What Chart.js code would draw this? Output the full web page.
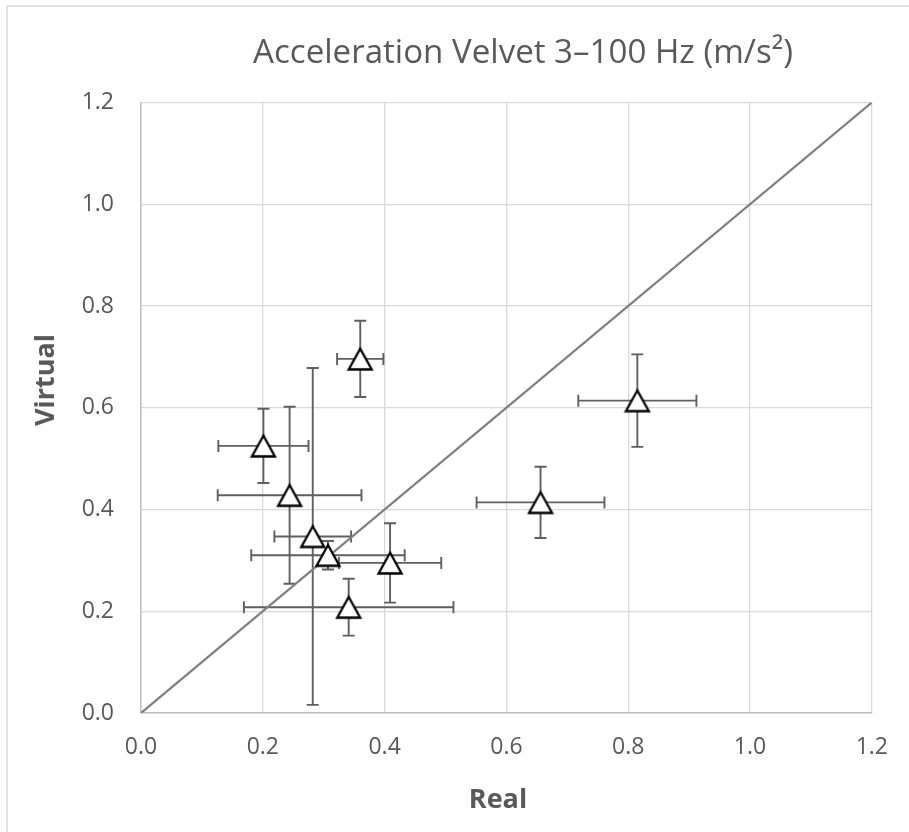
<!DOCTYPE html>
<html>
<head>
<meta charset="utf-8">
<script src="https://cdn.jsdelivr.net/npm/chart.js@4.4.1/dist/chart.umd.min.js"></script>
<style>
  html, body { margin: 0; padding: 0; background: #fff; }
  #wrap { position: relative; width: 909px; height: 832px; }
</style>
</head>
<body>
<div id="wrap"><canvas id="accChart" width="909" height="832"></canvas></div>
<script>
// Data
const realVals    = [0.360, 0.201, 0.244, 0.282, 0.307, 0.409, 0.341, 0.656, 0.815];
const virtualVals = [0.696, 0.525, 0.428, 0.347, 0.310, 0.295, 0.208, 0.414, 0.614];
const realErr     = [0.038, 0.074, 0.118, 0.063, 0.126, 0.084, 0.172, 0.105, 0.097];
const virtualErr  = [0.075, 0.073, 0.174, 0.331, 0.028, 0.078, 0.056, 0.070, 0.091];
// 1:1 reference line
const lineX = [0, 1.2];
const lineY = [0, 1.2];

const chartTitle = 'Acceleration Velvet 3–100 Hz (m/s²)';
const xTitle = 'Real';
const yTitle = 'Virtual';

const textGrey = '#595959';
const fontFam = '"Open Sans", "Noto Sans", sans-serif';

// Hollow triangle marker
const tri = document.createElement('canvas');
tri.width = 28;
tri.height = 26;
const tctx = tri.getContext('2d');
tctx.beginPath();
tctx.moveTo(14, 2.8);
tctx.lineTo(25.5, 23.5);
tctx.lineTo(2.5, 23.5);
tctx.closePath();
tctx.fillStyle = '#ffffff';
tctx.fill();
tctx.lineWidth = 2.3;
tctx.strokeStyle = '#000000';
tctx.stroke();

// Error bars, drawn under the markers
const errorBars = {
    id: 'errorBars',
    beforeDatasetsDraw(chart) {
        const ctx = chart.ctx;
        const xs = chart.scales.x;
        const ys = chart.scales.y;
        const cap = 6;
        ctx.save();
        ctx.strokeStyle = '#5f5f5f';
        ctx.lineWidth = 1.9;
        realVals.forEach((rv, i) => {
            const vv = virtualVals[i];
            const px = xs.getPixelForValue(rv);
            const py = ys.getPixelForValue(vv);
            const xl = xs.getPixelForValue(rv - realErr[i]);
            const xr = xs.getPixelForValue(rv + realErr[i]);
            const yt = ys.getPixelForValue(vv + virtualErr[i]);
            const yb = ys.getPixelForValue(vv - virtualErr[i]);
            ctx.beginPath();
            // horizontal
            ctx.moveTo(xl, py); ctx.lineTo(xr, py);
            ctx.moveTo(xl, py - cap); ctx.lineTo(xl, py + cap);
            ctx.moveTo(xr, py - cap); ctx.lineTo(xr, py + cap);
            // vertical
            ctx.moveTo(px, yt); ctx.lineTo(px, yb);
            ctx.moveTo(px - cap, yt); ctx.lineTo(px + cap, yt);
            ctx.moveTo(px - cap, yb); ctx.lineTo(px + cap, yb);
            ctx.stroke();
        });
        ctx.restore();
    }
};

// Frame, chart title and axis titles
const decorations = {
    id: 'decorations',
    beforeDraw(chart) {
        const ctx = chart.ctx;
        ctx.save();
        ctx.fillStyle = '#ffffff';
        ctx.fillRect(0, 0, chart.width, chart.height);
        ctx.strokeStyle = '#d9d9d9';
        ctx.lineWidth = 1.5;
        ctx.beginPath();
        ctx.moveTo(7, chart.height + 5);
        ctx.lineTo(7, 6);
        ctx.lineTo(chart.width + 5, 6);
        ctx.stroke();
        ctx.restore();
    },
    afterDraw(chart) {
        const ctx = chart.ctx;
        ctx.save();
        ctx.fillStyle = textGrey;
        ctx.textAlign = 'center';
        ctx.textBaseline = 'alphabetic';
        // size the title so it spans the same width as in the picture
        ctx.font = '400 30px ' + fontFam;
        const w = ctx.measureText(chartTitle).width;
        const size = Math.min(34, 30 * 540 / w);
        ctx.font = '400 ' + size.toFixed(1) + 'px ' + fontFam;
        ctx.fillText(chartTitle, 523, 63);

        ctx.font = 'bold 27px ' + fontFam;
        ctx.fillText(xTitle, 498, 808);

        ctx.translate(54, 380);
        ctx.rotate(-Math.PI / 2);
        ctx.fillText(yTitle, 0, 0);
        ctx.restore();
    }
};

const accCtx = document.getElementById('accChart').getContext('2d');
const accChart = new Chart(accCtx, {
    type: 'scatter',
    data: {
        datasets: [{
            label: 'Virtual vs Real',
            data: realVals.map((x, i) => ({ x: x, y: virtualVals[i] })),
            pointStyle: tri,
            pointRadius: 12,
            order: 1
        }, {
            type: 'line',
            label: '1:1',
            data: lineX.map((x, i) => ({ x: x, y: lineY[i] })),
            borderColor: '#7f7f7f',
            borderWidth: 2.2,
            pointRadius: 0,
            showLine: true,
            fill: false,
            order: 2
        }]
    },
    options: {
        responsive: false,
        animation: false,
        events: [],
        layout: {
            padding: { left: 0, right: 35, top: 102.5, bottom: 0 }
        },
        plugins: {
            legend: { display: false },
            title: { display: false },
            tooltip: { enabled: false }
        },
        scales: {
            x: {
                type: 'linear',
                min: 0,
                max: 1.2,
                afterFit: (scale) => { scale.height = 119; },
                grid: { color: '#d9d9d9', lineWidth: 1.3, drawTicks: false },
                border: { color: '#bfbfbf', width: 1.5 },
                ticks: {
                    stepSize: 0.2,
                    padding: 21,
                    color: textGrey,
                    font: { family: fontFam, size: 23 },
                    callback: (v) => v.toFixed(1)
                }
            },
            y: {
                type: 'linear',
                min: 0,
                max: 1.2,
                afterFit: (scale) => { scale.width = 141; },
                grid: { color: '#d9d9d9', lineWidth: 1.3, drawTicks: false },
                border: { color: '#bfbfbf', width: 1.5 },
                ticks: {
                    stepSize: 0.2,
                    padding: 27,
                    color: textGrey,
                    font: { family: fontFam, size: 23 },
                    callback: (v) => v.toFixed(1)
                }
            }
        }
    },
    plugins: [decorations, errorBars]
});
</script>
</body>
</html>
